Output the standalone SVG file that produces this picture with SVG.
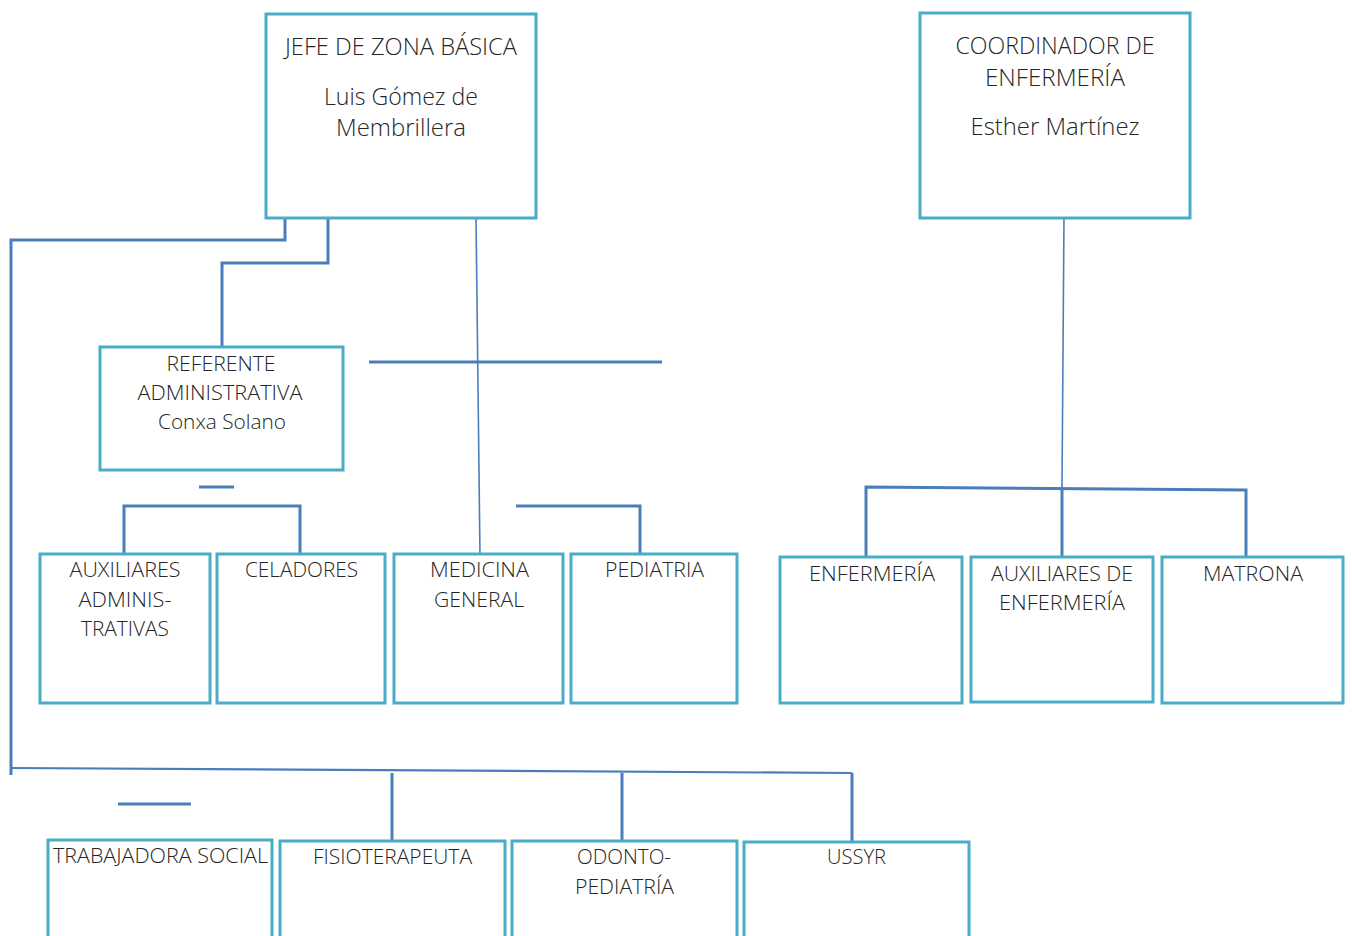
<svg xmlns="http://www.w3.org/2000/svg" width="1352" height="936" viewBox="0 0 1352 936">
<style>
.box{fill:#fff;stroke:#4BACC6;stroke-width:3}
.c{fill:none;stroke:#4A7EBB;stroke-width:3}
.t{fill:none;stroke:#4A7EBB;stroke-width:1.6}
text{font-family:"Open Sans","Liberation Sans",sans-serif;font-weight:300;fill:#262626;text-anchor:middle}
.lg{font-size:23px}
.md{font-size:21px}
</style>
<rect width="1352" height="936" fill="#fff"/>
<g id="connectors">
<polyline class="c" points="285,218 285,240 11,240 11,775"/>
<polyline class="c" points="328,218 328,263 222,263 222,347"/>
<line class="t" x1="476" y1="216" x2="480" y2="557"/>
<line class="c" x1="369" y1="362" x2="662" y2="362"/>
<line class="c" x1="199" y1="487" x2="234" y2="487"/>
<polyline class="c" points="124,557 124,506 300,506 300,554"/>
<polyline class="c" points="516,506 640,506 640,554"/>
<line class="t" x1="1064" y1="216" x2="1062" y2="488"/>
<polyline class="c" points="866,557 866,487 1246,490 1246,557"/>
<line class="c" x1="1062" y1="488" x2="1062" y2="557"/>
<line class="c" x1="11" y1="768" x2="852" y2="773" style="stroke-width:2.2"/>
<line class="c" x1="392" y1="773" x2="392" y2="841"/>
<line class="c" x1="622" y1="773" x2="622" y2="841"/>
<line class="c" x1="852" y1="773" x2="852" y2="842"/>
<line class="c" x1="118" y1="804" x2="191" y2="804"/>
</g>
<g id="jefe">
<rect class="box" x="266" y="14" width="270" height="204"/>
<text class="lg" x="401" y="55" textLength="232" lengthAdjust="spacingAndGlyphs">JEFE DE ZONA BÁSICA</text>
<text class="lg" x="401" y="105" textLength="154" lengthAdjust="spacingAndGlyphs">Luis Gómez de</text>
<text class="lg" x="401" y="136" textLength="130" lengthAdjust="spacingAndGlyphs">Membrillera</text>
</g>
<g id="coordinador">
<rect class="box" x="920" y="13" width="270" height="205"/>
<text class="lg" x="1055" y="54" textLength="199" lengthAdjust="spacingAndGlyphs">COORDINADOR DE</text>
<text class="lg" x="1055" y="86" textLength="140" lengthAdjust="spacingAndGlyphs">ENFERMERÍA</text>
<text class="lg" x="1055" y="135" textLength="169" lengthAdjust="spacingAndGlyphs">Esther Martínez</text>
</g>
<g id="referente">
<rect class="box" x="100" y="347" width="243" height="123"/>
<text class="md" x="221" y="371" textLength="109" lengthAdjust="spacingAndGlyphs">REFERENTE</text>
<text class="md" x="220" y="400" textLength="165" lengthAdjust="spacingAndGlyphs">ADMINISTRATIVA</text>
<text class="md" x="222" y="429" textLength="128" lengthAdjust="spacingAndGlyphs">Conxa Solano</text>
</g>
<g id="aux-admin">
<rect class="box" x="40" y="554" width="170" height="149"/>
<text class="md" x="125" y="577" textLength="111" lengthAdjust="spacingAndGlyphs">AUXILIARES</text>
<text class="md" x="125" y="607" textLength="93" lengthAdjust="spacingAndGlyphs">ADMINIS-</text>
<text class="md" x="125" y="636" textLength="88" lengthAdjust="spacingAndGlyphs">TRATIVAS</text>
</g>
<g id="celadores">
<rect class="box" x="217" y="554" width="168" height="149"/>
<text class="md" x="301.5" y="577" textLength="113" lengthAdjust="spacingAndGlyphs">CELADORES</text>
</g>
<g id="medicina">
<rect class="box" x="394" y="554" width="169" height="149"/>
<text class="md" x="479.5" y="577" textLength="99" lengthAdjust="spacingAndGlyphs">MEDICINA</text>
<text class="md" x="479" y="607" textLength="90" lengthAdjust="spacingAndGlyphs">GENERAL</text>
</g>
<g id="pediatria">
<rect class="box" x="571" y="554" width="166" height="149"/>
<text class="md" x="654.5" y="577" textLength="99" lengthAdjust="spacingAndGlyphs">PEDIATRIA</text>
</g>
<g id="enfermeria">
<rect class="box" x="780" y="557" width="182" height="146"/>
<text class="md" x="872" y="581" textLength="126" lengthAdjust="spacingAndGlyphs">ENFERMERÍA</text>
</g>
<g id="aux-enfermeria">
<rect class="box" x="971" y="557" width="182" height="145"/>
<text class="md" x="1062" y="581" textLength="142" lengthAdjust="spacingAndGlyphs">AUXILIARES DE</text>
<text class="md" x="1062" y="610" textLength="126" lengthAdjust="spacingAndGlyphs">ENFERMERÍA</text>
</g>
<g id="matrona">
<rect class="box" x="1162" y="557" width="181" height="146"/>
<text class="md" x="1253" y="581" textLength="100" lengthAdjust="spacingAndGlyphs">MATRONA</text>
</g>
<g id="trabajadora">
<rect class="box" x="48" y="840" width="224" height="120"/>
<text class="md" x="160.5" y="863" textLength="215" lengthAdjust="spacingAndGlyphs">TRABAJADORA SOCIAL</text>
</g>
<g id="fisioterapeuta">
<rect class="box" x="280" y="841" width="225" height="120"/>
<text class="md" x="392.5" y="864" textLength="159" lengthAdjust="spacingAndGlyphs">FISIOTERAPEUTA</text>
</g>
<g id="odonto">
<rect class="box" x="512" y="841" width="225" height="120"/>
<text class="md" x="624" y="864" textLength="94" lengthAdjust="spacingAndGlyphs">ODONTO-</text>
<text class="md" x="624.5" y="894" textLength="99" lengthAdjust="spacingAndGlyphs">PEDIATRÍA</text>
</g>
<g id="ussyr">
<rect class="box" x="744" y="842" width="225" height="120"/>
<text class="md" x="856.5" y="864" textLength="59" lengthAdjust="spacingAndGlyphs">USSYR</text>
</g>
</svg>
